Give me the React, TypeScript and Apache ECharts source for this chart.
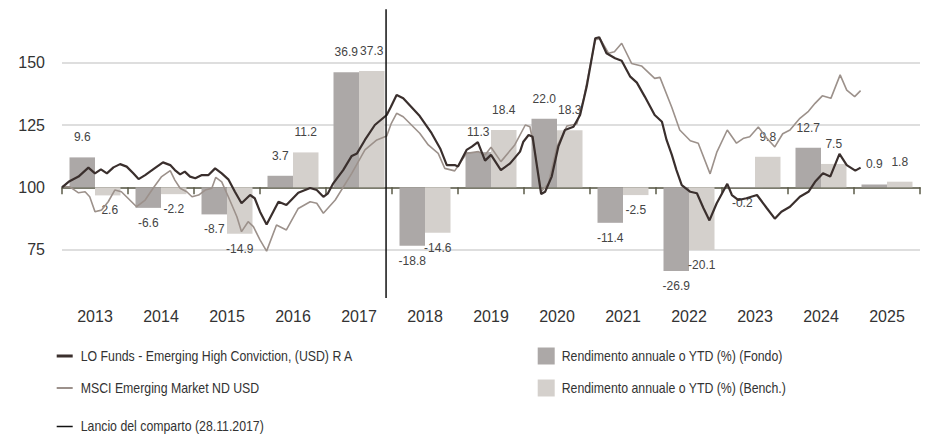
import React, { useEffect, useRef } from 'react';
import * as echarts from 'echarts';

const years = ['2013', '2014', '2015', '2016', '2017', '2018', '2019', '2020', '2021', '2022', '2023', '2024', '2025'];
const fundReturns = [9.6, -6.6, -8.7, 3.7, 36.9, -18.8, 11.3, 22.0, -11.4, -26.9, -0.2, 12.7, 0.9];
const benchReturns = [-2.6, -2.2, -14.9, 11.2, 37.3, -14.6, 18.4, 18.3, -2.5, -20.1, 9.8, 7.5, 1.8];

// [decimal year, indexed value]
const fundLine: [number, number][] = [
  [2013.0, 100.0], [2013.1, 102.2], [2013.25, 104.3], [2013.4, 107.9], [2013.5, 105.6], [2013.59, 107.2],
  [2013.68, 105.6], [2013.78, 108.0], [2013.88, 109.3], [2013.98, 108.3], [2014.08, 105.6], [2014.16, 103.3],
  [2014.26, 104.9], [2014.38, 107.2], [2014.53, 110.0], [2014.64, 108.9], [2014.71, 106.9], [2014.79, 105.2],
  [2014.86, 106.3], [2014.94, 104.3], [2015.02, 103.6], [2015.12, 104.9], [2015.22, 104.9], [2015.32, 107.6],
  [2015.42, 105.6], [2015.52, 103.2], [2015.62, 98.2], [2015.72, 93.6], [2015.85, 96.9], [2015.92, 95.6],
  [2016.0, 90.2], [2016.1, 85.1], [2016.28, 94.2], [2016.4, 92.9], [2016.58, 97.8], [2016.76, 99.7],
  [2016.86, 98.9], [2016.96, 96.2], [2017.03, 97.6], [2017.11, 101.6], [2017.26, 106.9], [2017.39, 112.6],
  [2017.47, 113.6], [2017.59, 119.0], [2017.74, 125.0], [2017.92, 129.0], [2017.98, 132.1], [2018.07, 137.0],
  [2018.17, 135.7], [2018.42, 128.6], [2018.6, 121.7], [2018.73, 115.6], [2018.83, 108.9], [2018.95, 108.9],
  [2019.0, 108.3], [2019.13, 115.0], [2019.21, 116.3], [2019.3, 118.1], [2019.41, 110.7], [2019.5, 113.0],
  [2019.65, 106.9], [2019.79, 109.6], [2019.94, 114.3], [2019.99, 118.3], [2020.07, 121.0], [2020.13, 120.3],
  [2020.19, 109.6], [2020.26, 97.3], [2020.32, 98.2], [2020.42, 104.3], [2020.52, 116.3], [2020.62, 123.0],
  [2020.75, 124.3], [2020.85, 129.0], [2020.95, 140.4], [2021.08, 159.8], [2021.14, 160.2], [2021.25, 153.8],
  [2021.38, 151.8], [2021.48, 150.8], [2021.61, 144.4], [2021.71, 142.0], [2021.83, 136.4], [2021.98, 129.0],
  [2022.09, 126.3], [2022.16, 119.0], [2022.24, 113.0], [2022.31, 106.9], [2022.39, 100.9], [2022.52, 98.2],
  [2022.62, 97.6], [2022.72, 91.6], [2022.81, 86.7], [2022.92, 93.6], [2023.08, 101.4], [2023.15, 96.9],
  [2023.25, 94.9], [2023.37, 95.6], [2023.53, 96.9], [2023.68, 91.6], [2023.8, 87.4], [2023.9, 90.2],
  [2024.03, 92.2], [2024.18, 96.2], [2024.31, 98.2], [2024.41, 102.2], [2024.53, 105.6], [2024.64, 104.3],
  [2024.78, 113.4], [2024.89, 108.9], [2025.02, 106.7], [2025.1, 107.9],
];

const benchLine: [number, number][] = [
  [2013.0, 100.3], [2013.12, 100.2], [2013.25, 97.8], [2013.35, 98.2], [2013.42, 96.2], [2013.5, 90.2],
  [2013.6, 90.9], [2013.7, 94.2], [2013.8, 98.9], [2013.9, 98.2], [2014.0, 95.6], [2014.13, 92.2],
  [2014.26, 94.9], [2014.38, 99.6], [2014.51, 104.3], [2014.64, 106.7], [2014.71, 102.9], [2014.79, 99.6],
  [2014.89, 98.2], [2014.97, 96.2], [2015.07, 96.9], [2015.17, 98.9], [2015.27, 99.6], [2015.33, 104.0],
  [2015.42, 102.2], [2015.52, 96.2], [2015.65, 88.2], [2015.72, 82.2], [2015.82, 86.2], [2015.9, 84.2],
  [2016.0, 78.9], [2016.1, 74.4], [2016.25, 84.9], [2016.4, 82.9], [2016.58, 91.5], [2016.76, 94.2],
  [2016.86, 93.6], [2016.96, 89.6], [2017.14, 94.9], [2017.39, 105.6], [2017.59, 115.0], [2017.77, 119.0],
  [2017.92, 120.6], [2017.99, 125.7], [2018.07, 129.7], [2018.17, 128.3], [2018.42, 121.7], [2018.55, 117.0],
  [2018.7, 113.6], [2018.8, 107.6], [2018.95, 106.6], [2019.13, 113.6], [2019.31, 114.3], [2019.41, 113.0],
  [2019.5, 116.1], [2019.65, 110.3], [2019.86, 117.0], [2020.02, 125.0], [2020.09, 124.3], [2020.17, 113.6],
  [2020.26, 98.2], [2020.37, 101.6], [2020.5, 116.3], [2020.65, 124.6], [2020.8, 125.4], [2020.9, 135.0],
  [2021.08, 159.1], [2021.15, 159.8], [2021.28, 153.8], [2021.37, 154.4], [2021.48, 157.8], [2021.63, 149.7],
  [2021.78, 148.7], [2021.98, 143.7], [2022.06, 144.1], [2022.24, 132.0], [2022.36, 123.0], [2022.52, 118.7],
  [2022.64, 117.7], [2022.82, 105.4], [2022.92, 114.0], [2023.08, 123.0], [2023.22, 117.7], [2023.33, 119.7],
  [2023.42, 120.3], [2023.55, 124.2], [2023.68, 119.7], [2023.8, 116.2], [2023.92, 121.5], [2024.03, 123.0],
  [2024.18, 127.7], [2024.31, 130.5], [2024.41, 133.7], [2024.52, 136.7], [2024.65, 135.7], [2024.79, 145.1],
  [2024.89, 139.0], [2025.01, 136.4], [2025.1, 138.8],
];

const launchDate = 2017.91;
const launchSpan = [171.4, 55.6];

const yTicks = { min: 50, max: 175, interval: 25 };

const FUND = 'LO Funds - Emerging High Conviction, (USD) R A';
const BENCH = 'MSCI Emerging Market ND USD';
const LAUNCH = 'Lancio del comparto (28.11.2017)';
const FUND_BAR = 'Rendimento annuale o YTD (%) (Fondo)';
const BENCH_BAR = 'Rendimento annuale o YTD (%) (Bench.)';

const C_FUND = '#3a2f2d';
const C_BENCH = '#9c918b';
const C_LAUNCH = '#111111';
const C_FUND_BAR = '#aca8a7';
const C_BENCH_BAR = '#d4d0cc';

// legend entries: name, colour, marker kind
const legendLines = [
  { name: FUND, color: C_FUND, thick: 3 },
  { name: BENCH, color: C_BENCH, thick: 2 },
  { name: LAUNCH, color: C_LAUNCH, thick: 1.5 },
];
const legendBars = [
  { name: FUND_BAR, color: C_FUND_BAR },
  { name: BENCH_BAR, color: C_BENCH_BAR },
];

function barData(values: number[]) {
  return values.map((v) => ({
    value: v,
    label: v < 0 ? { position: 'bottom', distance: 9 } : { position: 'top', distance: 14 },
  }));
}

function buildLegendGraphics() {
  const rowsLeft = [356, 388, 426.5];
  const rowsRight = [356, 388];
  const font = '14px "Liberation Sans", Arial, sans-serif';
  const els: any[] = [];
  legendLines.forEach((l, i) => {
    els.push({
      type: 'rect',
      shape: { x: 56.7, y: rowsLeft[i] - l.thick / 2, width: 16, height: l.thick },
      style: { fill: l.color },
      silent: true,
    });
    els.push({
      type: 'text',
      x: 80.7,
      y: rowsLeft[i],
      scaleX: 0.88,
      style: { text: l.name, font, fill: '#333', verticalAlign: 'middle', align: 'left' },
      silent: true,
    });
  });
  legendBars.forEach((b, i) => {
    els.push({
      type: 'rect',
      shape: { x: 537.7, y: rowsRight[i] - 8.5, width: 17, height: 17 },
      style: { fill: b.color },
      silent: true,
    });
    els.push({
      type: 'text',
      x: 561.7,
      y: rowsRight[i],
      scaleX: 0.88,
      style: { text: b.name, font, fill: '#333', verticalAlign: 'middle', align: 'left' },
      silent: true,
    });
  });
  return els;
}

export default function App() {
  const ref = useRef<HTMLDivElement>(null);
  useEffect(() => {
    document.body.style.margin = '0';
    if (!ref.current) return;
    const chart = echarts.init(ref.current, undefined, { renderer: 'svg' });
    const barLabel = {
      show: true,
      fontFamily: 'Liberation Sans',
      fontSize: 12,
      color: '#444',
      formatter: (p: any) => Number(p.value).toFixed(1),
    };
    chart.setOption({
      animation: false,
      grid: { left: 62, right: 7, top: 0.4, height: 311.5, containLabel: false },
      xAxis: [
        {
          type: 'category',
          data: years,
          gridIndex: 0,
          position: 'bottom',
          offset: -13.9,
          boundaryGap: true,
          axisLine: { show: true, lineStyle: { color: '#5b5b48', width: 1.5 } },
          axisTick: { show: true, length: 7, lineStyle: { color: '#5b5b48', width: 1.5 } },
          axisLabel: { fontFamily: 'Liberation Sans', fontSize: 16, color: '#333', margin: 10 },
          splitLine: { show: false },
        },
        { type: 'value', min: 2013, max: 2026, show: false, gridIndex: 0 },
      ],
      yAxis: [
        {
          type: 'value',
          min: yTicks.min,
          max: yTicks.max,
          interval: yTicks.interval,
          axisLine: { show: false },
          axisTick: { show: false },
          axisLabel: {
            showMinLabel: false,
            showMaxLabel: false,
            fontFamily: 'Liberation Sans',
            fontSize: 16,
            color: '#333',
            margin: 17,
          },
          splitLine: { show: true, showMinLine: false, showMaxLine: false, lineStyle: { color: '#d3d3d3', width: 1.5 } },
        },
        { type: 'value', min: -40, max: 60, show: false, splitLine: { show: false } },
      ],
      graphic: buildLegendGraphics(),
      series: [
        {
          name: FUND_BAR,
          type: 'bar',
          xAxisIndex: 0,
          yAxisIndex: 1,
          data: barData(fundReturns),
          barWidth: 25.5,
          barGap: '0%',
          color: C_FUND_BAR,
          itemStyle: { color: C_FUND_BAR },
          label: barLabel,
          z: 2,
        },
        {
          name: BENCH_BAR,
          type: 'bar',
          xAxisIndex: 0,
          yAxisIndex: 1,
          data: barData(benchReturns),
          barWidth: 25.5,
          barGap: '0%',
          color: C_BENCH_BAR,
          itemStyle: { color: C_BENCH_BAR },
          label: barLabel,
          z: 2,
        },
        {
          name: BENCH,
          type: 'line',
          xAxisIndex: 1,
          yAxisIndex: 0,
          data: benchLine,
          showSymbol: false,
          symbol: 'none',
          color: C_BENCH,
          lineStyle: { color: C_BENCH, width: 1.6 },
          itemStyle: { color: C_BENCH },
          z: 3,
        },
        {
          name: FUND,
          type: 'line',
          xAxisIndex: 1,
          yAxisIndex: 0,
          data: fundLine,
          showSymbol: false,
          symbol: 'none',
          color: C_FUND,
          lineStyle: { color: C_FUND, width: 2.2 },
          itemStyle: { color: C_FUND },
          z: 4,
        },
        {
          name: LAUNCH,
          type: 'line',
          xAxisIndex: 1,
          yAxisIndex: 0,
          data: launchSpan.map((v) => [launchDate, v]),
          showSymbol: false,
          symbol: 'none',
          color: C_LAUNCH,
          lineStyle: { color: C_LAUNCH, width: 1.5 },
          itemStyle: { color: C_LAUNCH },
          z: 5,
        },
      ],
    });
    return () => chart.dispose();
  }, []);
  return <div ref={ref} style={{ width: 927, height: 434 }} />;
}
